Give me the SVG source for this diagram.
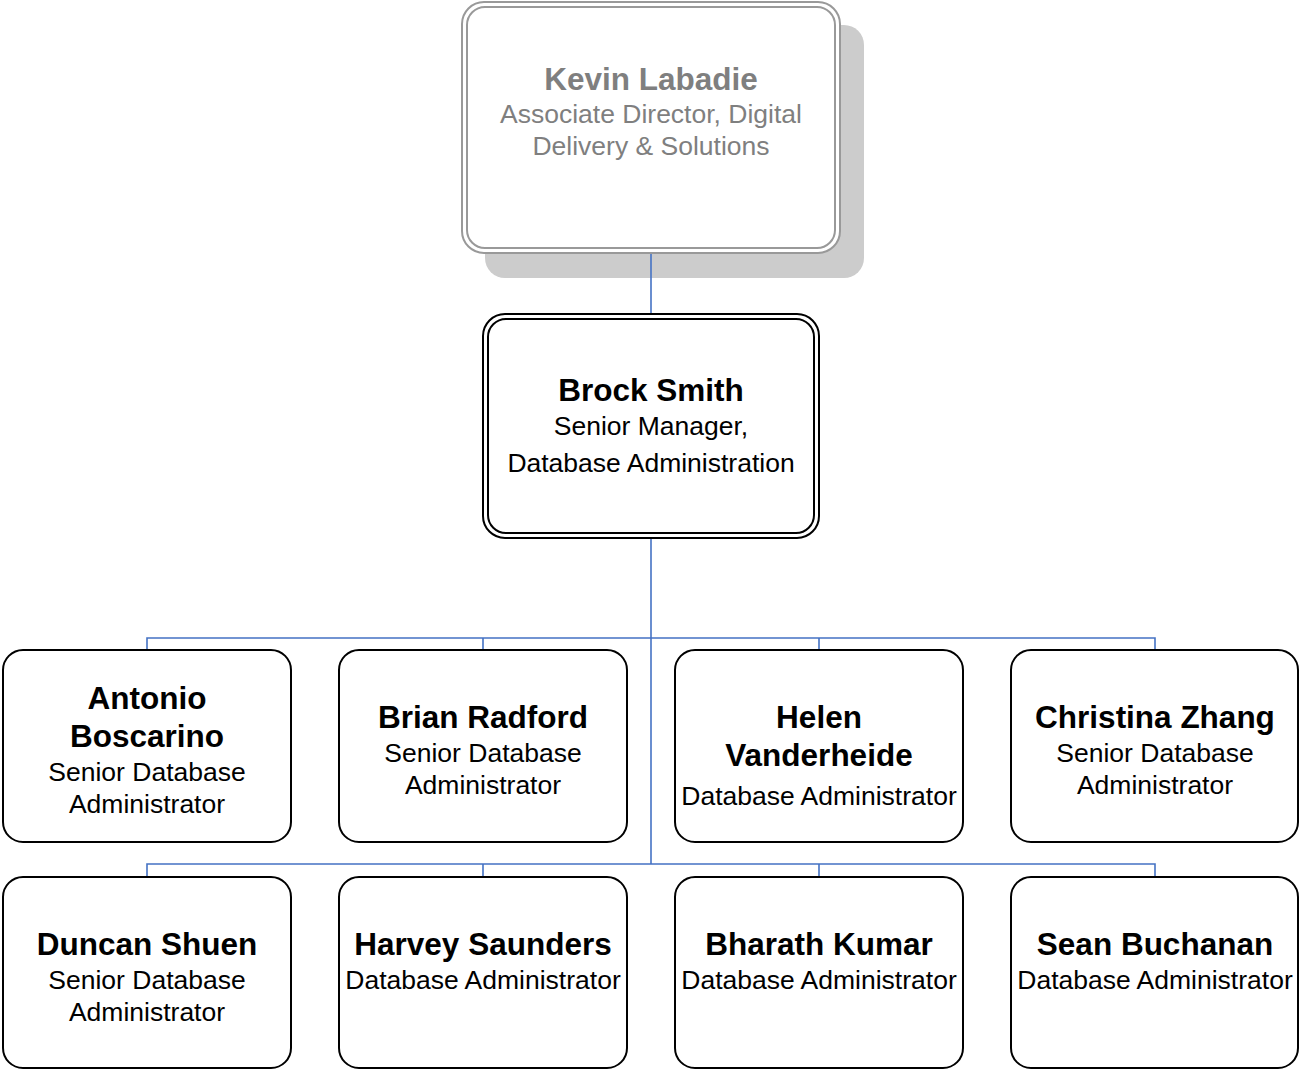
<svg xmlns="http://www.w3.org/2000/svg" width="1299" height="1069" viewBox="0 0 1299 1069">
<style>
.bg{fill:#ffffff}
.box{fill:#ffffff;stroke:#000000;stroke-width:2}
.conn{fill:none;stroke:#4472C4;stroke-width:1.6}
.name{font-family:"Liberation Sans",Arial,sans-serif;font-weight:bold;font-size:31.5px;text-anchor:middle;fill:#000000}
.title{font-family:"Liberation Sans",Arial,sans-serif;font-size:26.5px;text-anchor:middle;fill:#000000}
.gray .name,.gray .title{fill:#7f7f7f}
</style>
<rect class="bg" x="0" y="0" width="1299" height="1069"/>
<g id="kevin" class="gray">
<rect x="485" y="25" width="379" height="253" rx="20" fill="#cccccc"/>
<rect x="462" y="2" width="378" height="251" rx="22" fill="#ffffff" stroke="#999999" stroke-width="2"/>
<rect x="467" y="7" width="368" height="241" rx="18" fill="none" stroke="#999999" stroke-width="2"/>
<text class="name" x="651" y="90">Kevin Labadie</text>
<text class="title" x="651" y="123">Associate Director, Digital</text>
<text class="title" x="651" y="155">Delivery &amp; Solutions</text>
</g>
<g id="brock">
<rect x="483" y="314" width="336" height="224" rx="22" fill="#ffffff" stroke="#000000" stroke-width="2"/>
<rect x="488" y="319" width="326" height="214" rx="18" fill="none" stroke="#000000" stroke-width="2"/>
<text class="name" x="651" y="401">Brock Smith</text>
<text class="title" x="651" y="435">Senior Manager,</text>
<text class="title" x="651" y="472">Database Administration</text>
</g>
<g id="antonio">
<rect class="box" x="3" y="650" width="288" height="192" rx="20"/>
<text class="name" x="147" y="709">Antonio</text>
<text class="name" x="147" y="747">Boscarino</text>
<text class="title" x="147" y="781">Senior Database</text>
<text class="title" x="147" y="813">Administrator</text>
</g>
<g id="brian">
<rect class="box" x="339" y="650" width="288" height="192" rx="20"/>
<text class="name" x="483" y="728">Brian Radford</text>
<text class="title" x="483" y="762">Senior Database</text>
<text class="title" x="483" y="794">Administrator</text>
</g>
<g id="helen">
<rect class="box" x="675" y="650" width="288" height="192" rx="20"/>
<text class="name" x="819" y="728">Helen</text>
<text class="name" x="819" y="766">Vanderheide</text>
<text class="title" x="819" y="805">Database Administrator</text>
</g>
<g id="christina">
<rect class="box" x="1011" y="650" width="287" height="192" rx="20"/>
<text class="name" x="1155" y="728">Christina Zhang</text>
<text class="title" x="1155" y="762">Senior Database</text>
<text class="title" x="1155" y="794">Administrator</text>
</g>
<g id="duncan">
<rect class="box" x="3" y="877" width="288" height="191" rx="20"/>
<text class="name" x="147" y="955">Duncan Shuen</text>
<text class="title" x="147" y="989">Senior Database</text>
<text class="title" x="147" y="1021">Administrator</text>
</g>
<g id="harvey">
<rect class="box" x="339" y="877" width="288" height="191" rx="20"/>
<text class="name" x="483" y="955">Harvey Saunders</text>
<text class="title" x="483" y="989">Database Administrator</text>
</g>
<g id="bharath">
<rect class="box" x="675" y="877" width="288" height="191" rx="20"/>
<text class="name" x="819" y="955">Bharath Kumar</text>
<text class="title" x="819" y="989">Database Administrator</text>
</g>
<g id="sean">
<rect class="box" x="1011" y="877" width="287" height="191" rx="20"/>
<text class="name" x="1155" y="955">Sean Buchanan</text>
<text class="title" x="1155" y="989">Database Administrator</text>
</g>
<g id="connectors">
<path class="conn" d="M651,254 V313"/>
<path class="conn" d="M651,539 V864"/>
<path class="conn" d="M147,649 V638 H1155 V649 M483,638 V649 M819,638 V649"/>
<path class="conn" d="M147,876 V864 H1155 V876 M483,864 V876 M819,864 V876"/>
</g>
</svg>
